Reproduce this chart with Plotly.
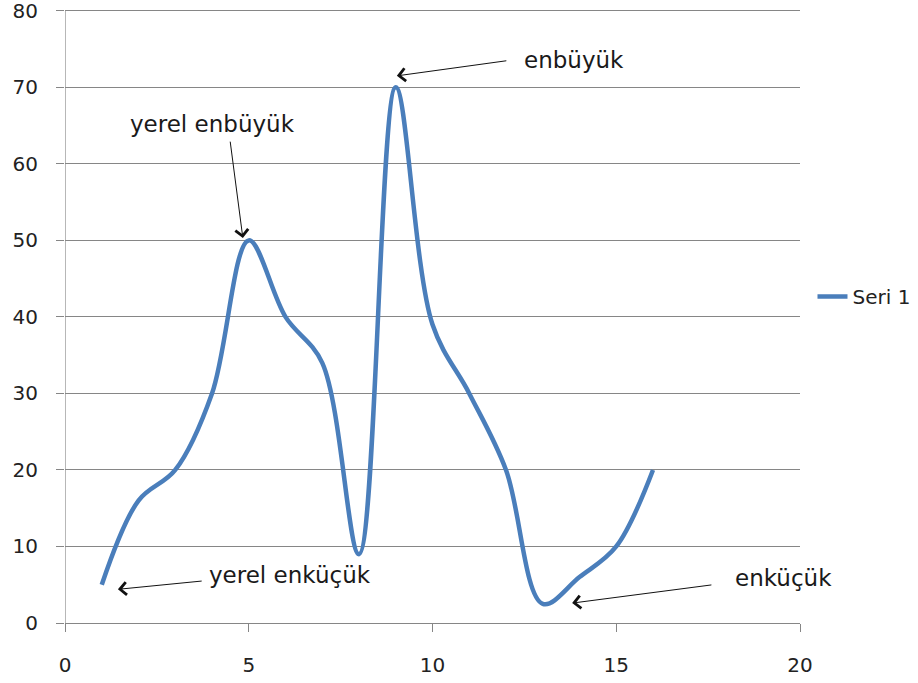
import plotly.graph_objects as go

x_vals = [1, 2, 3, 4, 5, 6, 7, 8, 9, 10, 11, 12, 13, 14, 15, 16]
y_vals = [5, 16, 20, 30, 50, 40, 34, 9, 70, 39, 30, 20, 2.5, 6, 10, 20]
series_name = "Seri 1"

x_ticks = [0, 5, 10, 15, 20]
y_ticks = [0, 10, 20, 30, 40, 50, 60, 70, 80]

# annotation labels: (text, text_x, text_y, head_x, head_y, tail_x, tail_y)
notes = [
    ("yerel enbüyük", 1.71, 65.2, 4.84, 50.3, 4.49, 63.1),
    ("enbüyük", 12.44, 73.6, 9.03, 71.5, 12.05, 73.5),
    ("yerel enküçük", 3.86, 6.3, 1.44, 4.4, 3.76, 5.5),
    ("enküçük", 18.18, 5.9, 13.8, 2.6, 17.63, 5.0),
]

FONT = "DejaVu Sans"
fig = go.Figure()
fig.add_trace(go.Scatter(
    x=x_vals, y=y_vals, mode="lines", name=series_name,
    line=dict(color="#4A7EBB", width=4.5, shape="spline", smoothing=1.0),
))

annotations = []
for text, tx, ty, hx, hy, ax_, ay_ in notes:
    annotations.append(dict(
        x=tx, y=ty, xref="x", yref="y", text=text, showarrow=False,
        xanchor="left", yanchor="middle",
        font=dict(family=FONT, size=23, color="#1a1a1a"),
    ))
    annotations.append(dict(
        x=hx, y=hy, xref="x", yref="y", ax=ax_, ay=ay_, axref="x", ayref="y",
        text="", showarrow=True, arrowhead=4, arrowsize=2.5, arrowwidth=1.0,
        arrowcolor="#111111", standoff=0, startstandoff=0,
    ))

fig.update_layout(
    width=918, height=683,
    margin=dict(l=65, r=118, t=7, b=60, autoexpand=False),
    paper_bgcolor="white", plot_bgcolor="white",
    font=dict(family=FONT, size=20, color="#222222"),
    showlegend=True,
    legend=dict(x=1.017, y=0.53, yanchor="middle", xanchor="left",
                yref="paper", font=dict(family=FONT, size=20, color="#222222"),
                bgcolor="rgba(0,0,0,0)", borderwidth=0),
    annotations=annotations,
    xaxis=dict(range=[0, 20], tickvals=x_ticks, showgrid=False, zeroline=False,
               showline=True, linecolor="#868686", linewidth=1.2,
               ticks="outside", ticklen=8, tickcolor="#868686", ticklabelstandoff=16,
               ticklabeloverflow="allow"),
    yaxis=dict(range=[0, 80.5], tickvals=y_ticks, showgrid=True, gridcolor="#868686",
               gridwidth=1.2, zeroline=False, showline=False,
               ticks="outside", ticklen=8, tickcolor="#868686", ticklabelstandoff=14,
               ticklabeloverflow="allow"),
    shapes=[dict(type="line", xref="x", yref="y", x0=0, x1=0, y0=0, y1=80,
                 line=dict(color="#868686", width=1.2))],
)

fig.write_html("out.html", post_script="document.body.style.margin='0';",
               config={"displayModeBar": False})
